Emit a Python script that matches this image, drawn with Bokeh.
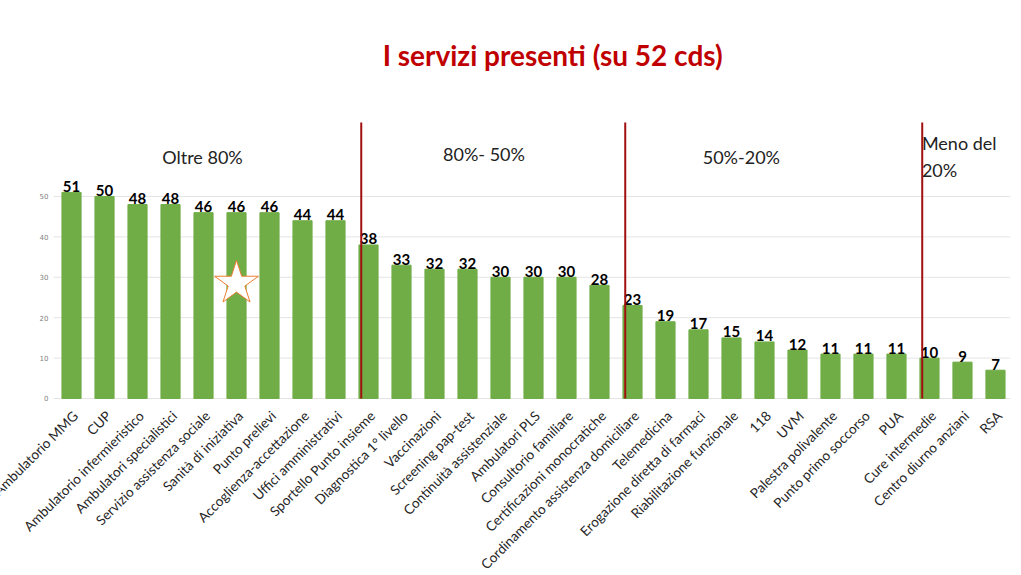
from bokeh.plotting import figure
from bokeh.models import Range1d, ColumnDataSource
from bokeh.core.properties import value
from bokeh.embed import file_html
from bokeh.resources import INLINE

categories = ["Ambulatorio MMG", "CUP", "Ambulatorio infermieristico", "Ambulatori specialistici",
              "Servizio assistenza sociale", "Sanità di iniziativa", "Punto prelievi",
              "Accoglienza-accettazione", "Uffici amministrativi", "Sportello Punto insieme",
              "Diagnostica 1° livello", "Vaccinazioni", "Screening pap-test", "Continuità assistenziale",
              "Ambulatori PLS", "Consultorio familiare", "Certificazioni monocratiche",
              "Cordinamento assistenza domiciliare", "Telemedicina", "Erogazione diretta di farmaci",
              "Riabilitazione funzionale", "118", "UVM", "Palestra polivalente", "Punto primo soccorso",
              "PUA", "Cure intermedie", "Centro diurno anziani", "RSA"]
values = [51, 50, 48, 48, 46, 46, 46, 44, 44, 38, 33, 32, 32, 30, 30, 30, 28, 23, 19, 17, 15, 14,
          12, 11, 11, 11, 10, 9, 7]
y_ticks = [0, 10, 20, 30, 40, 50]
group_labels = ["Oltre 80%", "80%- 50%", "50%-20%", "Meno del\n20%"]
group_starts = [9, 17, 26]  # index of first bar after each divider
title_text = "I servizi presenti (su 52 cds)"
star_index = 5
star_value = 28.5

FONT = "Lato"
xs = list(range(len(categories)))
src = ColumnDataSource(dict(x=xs, top=values, lab=[str(v) for v in values],
                            cat=categories, zero=[0] * len(values)))

# plot frame covers the whole canvas so rotated category labels can run to the edges
p = figure(width=1020, height=574, output_backend="svg", toolbar_location=None,
           x_range=Range1d(-2.152, 28.758), y_range=Range1d(-43.56, 98.5),
           min_border_left=0, min_border_right=0, min_border_top=0, min_border_bottom=0)
p.outline_line_color = None
p.background_fill_color = "white"
p.xaxis.visible = False
p.yaxis.visible = False
p.xgrid.visible = False
p.ygrid.visible = False

x_lo, x_hi = -0.545, 28.45  # extent of the value grid

# horizontal grid lines at the tick values
p.segment(x0=[x_lo] * len(y_ticks), x1=[x_hi] * len(y_ticks), y0=y_ticks, y1=y_ticks,
          line_color="#e4e4e4", line_width=1)
# y tick labels
p.text(x=[x_lo] * len(y_ticks), y=y_ticks, text=[str(t) for t in y_ticks], x_offset=-5,
       text_align="right", text_baseline="middle", text_font=value("DejaVu Sans"),
       text_font_size="7px", text_color="#7f7f7f")

p.vbar(x="x", top="top", width=0.58, source=src, color="#70AD47")
p.text(x="x", y="top", text="lab", source=src, text_align="center", text_baseline="alphabetic",
       y_offset=-6, text_font=value(FONT), text_font_style="bold", text_font_size="15px",
       text_color="black")

# category labels, rotated 45 degrees, ending under each bar
p.text(x="x", y="zero", text="cat", source=src, angle=0.785398, text_align="right",
       text_baseline="middle", x_offset=4, y_offset=15, text_font=value(FONT),
       text_font_size="13.6px", text_color="#262626")

# group dividers
for gs in group_starts:
    p.segment(x0=[gs - 0.22], x1=[gs - 0.22], y0=[0], y1=[68.3], line_color="#A01010", line_width=2)

# group labels
gx = [3.97, 12.5, 20.3]
gy = [59.7, 60.5, 59.7]
p.text(x=gx, y=gy, text=group_labels[:3], text_align="center", text_baseline="middle",
       text_font=value(FONT), text_font_size="18px", text_color="#222222")
p.text(x=[25.77], y=[59.9], text=[group_labels[3]], text_align="left", text_baseline="middle",
       text_font=value(FONT), text_font_size="18px", text_color="#222222", text_line_height=1.2)

# title
p.text(x=[14.58], y=[84.9], text=[title_text], text_align="center", text_baseline="middle",
       text_font=value(FONT), text_font_style="bold", text_font_size="28px", text_color="#C00000")

# star
p.scatter(x=[star_index], y=[star_value], marker="star", size=46, fill_color="white",
          line_color="#ED7D31", line_width=1)

open("out.html", "w").write(file_html(p, INLINE))
